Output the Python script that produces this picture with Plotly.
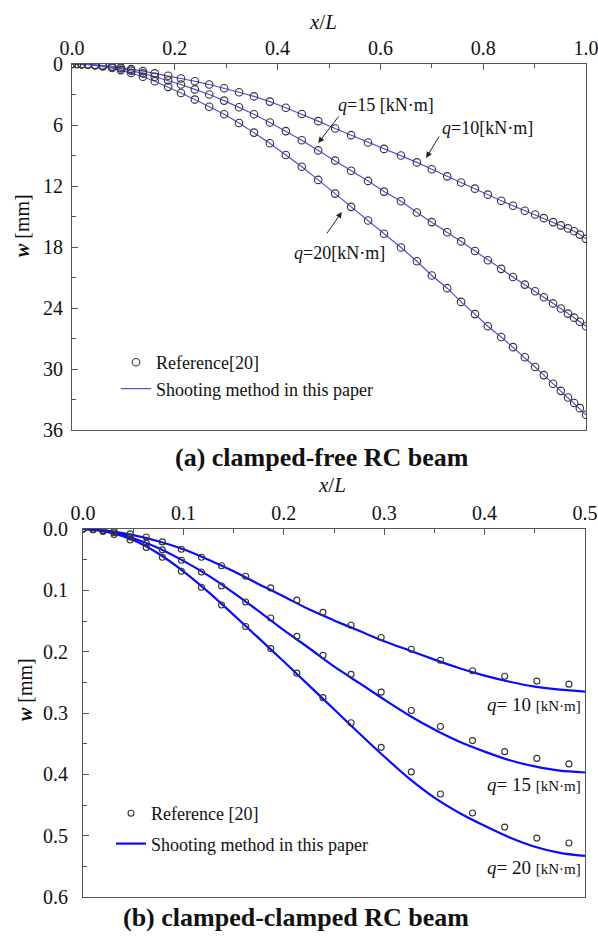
import plotly.graph_objects as go

# ---------------- (a) clamped-free RC beam ----------------
xi_cf = [0.0, 0.010, 0.019, 0.031, 0.045, 0.060, 0.078, 0.095, 0.115, 0.138,
         0.161, 0.187, 0.212, 0.239, 0.267, 0.296, 0.325, 0.354, 0.385, 0.416,
         0.447, 0.479, 0.512, 0.543, 0.576, 0.607, 0.640, 0.671, 0.700, 0.730,
         0.757, 0.784, 0.809, 0.835, 0.858, 0.881, 0.901, 0.918, 0.936, 0.951,
         0.965, 0.977, 0.988, 1.000]
w_cf_q10 = [0.00, 0.00, 0.02, 0.04, 0.08, 0.14, 0.24, 0.36, 0.50, 0.70,
            0.92, 1.16, 1.42, 1.70, 2.02, 2.38, 2.78, 3.18, 3.70, 4.30,
            4.92, 5.62, 6.35, 7.00, 7.72, 8.35, 9.00, 9.68, 10.35, 11.05,
            11.66, 12.26, 12.85, 13.45, 13.95, 14.44, 14.80, 15.16, 15.55, 15.87,
            16.17, 16.45, 16.78, 17.20]
w_cf_q15 = [0.00, 0.00, 0.02, 0.05, 0.10, 0.18, 0.30, 0.45, 0.65, 0.92,
            1.25, 1.62, 2.02, 2.50, 3.00, 3.60, 4.25, 4.95, 5.75, 6.60,
            7.50, 8.50, 9.50, 10.50, 11.50, 12.55, 13.50, 14.60, 15.55, 16.55,
            17.45, 18.40, 19.30, 20.15, 20.95, 21.70, 22.35, 22.95, 23.55, 24.05,
            24.55, 24.95, 25.35, 25.80]
w_cf_q20 = [0.00, 0.00, 0.03, 0.07, 0.14, 0.24, 0.40, 0.60, 0.88, 1.25,
            1.70, 2.25, 2.85, 3.50, 4.20, 4.95, 5.80, 6.75, 7.80, 8.95,
            10.10, 11.40, 12.75, 14.05, 15.40, 16.70, 18.05, 19.40, 20.80, 22.05,
            23.40, 24.60, 25.80, 26.85, 27.85, 28.85, 29.80, 30.60, 31.45, 32.15,
            32.80, 33.35, 33.85, 34.50]

# ---------------- (b) clamped-clamped RC beam ----------------
xi_cc_ref = [0.0, 0.010, 0.020, 0.031, 0.047, 0.063, 0.079, 0.098, 0.118, 0.138,
             0.162, 0.187, 0.213, 0.239, 0.267, 0.297, 0.327, 0.356, 0.388, 0.420,
             0.452, 0.484]
w_cc_ref_q10 = [0.0, 0.001, 0.002, 0.004, 0.008, 0.013, 0.021, 0.033, 0.046, 0.060,
                0.077, 0.096, 0.116, 0.136, 0.157, 0.177, 0.196, 0.214, 0.231, 0.240,
                0.248, 0.253]
w_cc_ref_q15 = [0.0, 0.001, 0.003, 0.006, 0.013, 0.023, 0.034, 0.051, 0.070, 0.093,
                0.119, 0.145, 0.175, 0.206, 0.237, 0.266, 0.296, 0.322, 0.345, 0.363,
                0.374, 0.383]
w_cc_ref_q20 = [0.0, 0.001, 0.004, 0.009, 0.018, 0.030, 0.046, 0.069, 0.095, 0.124,
                0.159, 0.195, 0.235, 0.275, 0.316, 0.356, 0.396, 0.432, 0.463, 0.486,
                0.504, 0.512]

xi_cc_line = [0.0, 0.025, 0.05, 0.075, 0.1, 0.125, 0.15, 0.175, 0.2, 0.225, 0.25,
              0.275, 0.3, 0.325, 0.35, 0.375, 0.4, 0.425, 0.45, 0.475, 0.5]
w_cc_line_q10 = [0.0, 0.003, 0.010, 0.020, 0.033, 0.050, 0.069, 0.090, 0.110, 0.131, 0.149,
                 0.166, 0.183, 0.198, 0.213, 0.227, 0.239, 0.249, 0.257, 0.262, 0.265]
w_cc_line_q15 = [0.0, 0.004, 0.015, 0.031, 0.052, 0.076, 0.104, 0.134, 0.165, 0.194, 0.224,
                 0.251, 0.278, 0.304, 0.327, 0.347, 0.363, 0.377, 0.387, 0.394, 0.397]
w_cc_line_q20 = [0.0, 0.005, 0.018, 0.040, 0.069, 0.103, 0.140, 0.178, 0.216, 0.255, 0.294,
                 0.333, 0.371, 0.407, 0.438, 0.463, 0.484, 0.503, 0.518, 0.528, 0.533]

x_ticks_cf = [0.0, 0.2, 0.4, 0.6, 0.8, 1.0]
y_ticks_cf = [0, 6, 12, 18, 24, 30, 36]
x_ticks_cc = [0.0, 0.1, 0.2, 0.3, 0.4, 0.5]
y_ticks_cc = [0.0, 0.1, 0.2, 0.3, 0.4, 0.5, 0.6]

SERIF = "Liberation Serif, Times New Roman, serif"
W, H = 598, 936
AX = "#555555"
TXT = "#111111"

fig = go.Figure()

# top panel lines then markers
for i, w in enumerate([w_cf_q10, w_cf_q15, w_cf_q20]):
    fig.add_trace(go.Scatter(
        x=xi_cf, y=w, mode="lines", xaxis="x", yaxis="y",
        line=dict(color="#4f4fe0", width=1.2),
        name="Shooting method in this paper", legend="legend",
        showlegend=(i == 0), legendrank=2, hoverinfo="skip"))
for i, w in enumerate([w_cf_q10, w_cf_q15, w_cf_q20]):
    fig.add_trace(go.Scatter(
        x=xi_cf, y=w, mode="markers", xaxis="x", yaxis="y",
        marker=dict(symbol="circle-open", size=7.5, color="#333333", line=dict(width=1.1)),
        name="Reference[20]", legend="legend",
        showlegend=(i == 0), legendrank=1, hoverinfo="skip"))

# bottom panel
for i, w in enumerate([w_cc_line_q10, w_cc_line_q15, w_cc_line_q20]):
    fig.add_trace(go.Scatter(
        x=xi_cc_line, y=w, mode="lines", xaxis="x2", yaxis="y2",
        line=dict(color="#0a0aff", width=2.2, shape="spline", smoothing=0.8),
        name="Shooting method in this paper", legend="legend2", legendgroup="line",
        showlegend=(i == 0), legendrank=2, hoverinfo="skip"))
for i, w in enumerate([w_cc_ref_q10, w_cc_ref_q15, w_cc_ref_q20]):
    fig.add_trace(go.Scatter(
        x=xi_cc_ref, y=w, mode="markers", xaxis="x2", yaxis="y2",
        marker=dict(symbol="circle-open", size=6, color="#333333", line=dict(width=1.1)),
        name="Reference [20]", legend="legend2", legendgroup="ref",
        showlegend=(i == 0), legendrank=1, hoverinfo="skip"))


def px_x(p):
    return p / W


def px_y(p):
    return 1 - p / H


axis_common = dict(
    showline=True, linecolor=AX, linewidth=1, mirror=True,
    ticks="inside", ticklen=6, tickcolor=AX, tickwidth=1,
    showgrid=False, zeroline=False, automargin=False,
    ticklabeloverflow="allow",
    tickfont=dict(family=SERIF, size=20, color=TXT),
)

fig.update_layout(
    width=W, height=H,
    margin=dict(l=0, r=0, t=0, b=0),
    paper_bgcolor="white", plot_bgcolor="white",
    xaxis=dict(domain=[px_x(72), px_x(586)], anchor="y", side="top", range=[0, 1],
               tickvals=x_ticks_cf, ticktext=[f"{v:.1f}" for v in x_ticks_cf],
               minor=dict(ticks="inside", ticklen=4, tickcolor=AX, dtick=0.1, tick0=0),
               **axis_common),
    yaxis=dict(domain=[px_y(430), px_y(64)], anchor="x", range=[36, 0],
               tickvals=y_ticks_cf, ticktext=[str(v) for v in y_ticks_cf],
               minor=dict(ticks="inside", ticklen=4, tickcolor=AX, dtick=3, tick0=0),
               ticklabelstandoff=4,
               **axis_common),
    xaxis2=dict(domain=[px_x(83), px_x(585)], anchor="y2", side="top", range=[0, 0.5],
                tickvals=x_ticks_cc, ticktext=[f"{v:.1f}" for v in x_ticks_cc],
                minor=dict(ticks="inside", ticklen=4, tickcolor=AX, dtick=0.05, tick0=0),
                **axis_common),
    yaxis2=dict(domain=[px_y(897), px_y(529)], anchor="x2", range=[0.6, 0],
                tickvals=y_ticks_cc, ticktext=[f"{v:.1f}" for v in y_ticks_cc],
                minor=dict(ticks="inside", ticklen=4, tickcolor=AX, dtick=0.05, tick0=0),
                ticklabelstandoff=10,
                **axis_common),
    legend=dict(x=px_x(116), y=px_y(344), xanchor="left", yanchor="top",
                bgcolor="rgba(0,0,0,0)", font=dict(family=SERIF, size=18, color=TXT),
                itemwidth=30, tracegroupgap=0),
    legend2=dict(x=px_x(111), y=px_y(795), xanchor="left", yanchor="top",
                 bgcolor="rgba(0,0,0,0)", font=dict(family=SERIF, size=18, color=TXT),
                 itemwidth=30, traceorder="grouped", tracegroupgap=4),
)

ann = []
C = dict(xanchor="center", yanchor="middle", showarrow=False, xref="paper", yref="paper")
# axis titles
ann.append(dict(text="<i>x</i>/<i>L</i>", x=px_x(323), y=px_y(22),
                font=dict(family=SERIF, size=21, color=TXT), **C))
ann.append(dict(text="<i>x</i>/<i>L</i>", x=px_x(332), y=px_y(485),
                font=dict(family=SERIF, size=21, color=TXT), **C))
ann.append(dict(text="<b><i>w</i></b> [mm]", x=px_x(22), y=px_y(226), textangle=-90,
                font=dict(family=SERIF, size=20, color=TXT), **C))
ann.append(dict(text="<b><i>w</i></b> [mm]", x=px_x(25), y=px_y(690), textangle=-90,
                font=dict(family=SERIF, size=20, color=TXT), **C))
# captions
ann.append(dict(text="<b>(a) clamped-free RC beam</b>", x=px_x(322), y=px_y(457),
                font=dict(family=SERIF, size=26, color=TXT), **C))
ann.append(dict(text="<b>(b) clamped-clamped RC beam</b>", x=px_x(296), y=px_y(917),
                font=dict(family=SERIF, size=26, color=TXT), **C))

# top-panel labels with arrows
lab = dict(family=SERIF, size=18, color=TXT)
ann.append(dict(text="<i>q</i>=15 [kN·m]", xref="x", yref="y", x=0.611, y=4.03,
                xanchor="center", yanchor="middle", showarrow=False, font=lab))
ann.append(dict(text="<i>q</i>=10[kN·m]", xref="x", yref="y", x=0.809, y=6.29,
                xanchor="center", yanchor="middle", showarrow=False, font=lab))
ann.append(dict(text="<i>q</i>=20[kN·m]", xref="x", yref="y", x=0.521, y=18.58,
                xanchor="center", yanchor="middle", showarrow=False, font=lab))
for (tx, ty, hx, hy) in [(0.521, 5.01, 0.479, 7.77), (0.716, 6.98, 0.689, 9.24),
                         (0.494, 16.8, 0.525, 14.55)]:
    ann.append(dict(text="", xref="x", yref="y", axref="x", ayref="y",
                    x=hx, y=hy, ax=tx, ay=ty, showarrow=True,
                    arrowhead=2, arrowsize=1.2, arrowwidth=1, arrowcolor="#222222"))

# bottom-panel labels
small = "<span style='font-size:15px'>[kN·m]</span>"
for q, yv in [(10, 0.286), (15, 0.417), (20, 0.552)]:
    ann.append(dict(text=f"<i>q</i>= {q} {small}", xref="x2", yref="y2", x=0.498, y=yv,
                    xanchor="right", yanchor="middle", showarrow=False,
                    font=dict(family=SERIF, size=19, color=TXT)))

fig.update_layout(annotations=ann)

fig.write_html("out.html",
               config={"displayModeBar": False},
               post_script="document.body.style.margin='0';document.body.style.padding='0';")
